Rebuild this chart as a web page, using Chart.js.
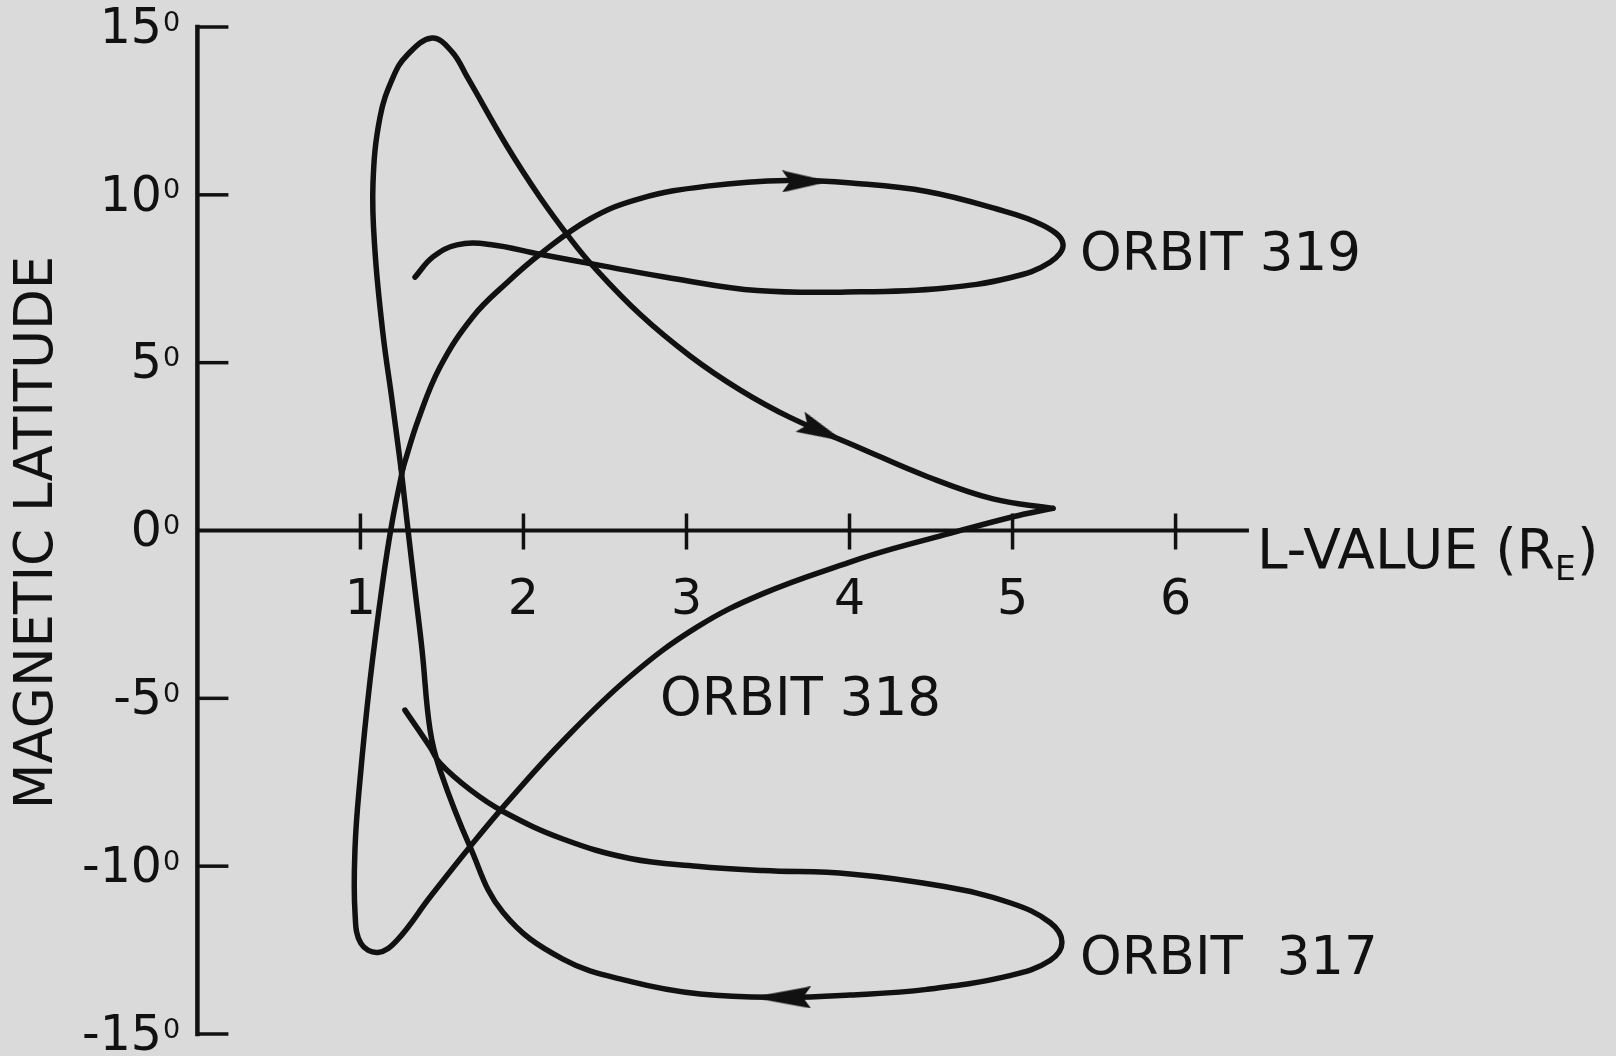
<!DOCTYPE html>
<html>
<head>
<meta charset="utf-8">
<title>Magnetic latitude vs L-value, orbits 317-319</title>
<script src="https://cdn.jsdelivr.net/npm/chart.js@4.4.0/dist/chart.umd.min.js"></script>
<style>
  html, body { margin: 0; padding: 0; background: #dadada; }
  #wrap { position: relative; width: 1616px; height: 1056px; }
</style>
</head>
<body>
<div id="wrap"><canvas id="chart"></canvas></div>
<script>
// axis ticks
const lTicks = [1, 2, 3, 4, 5, 6];
const latTicks = [15, 10, 5, 0, -5, -10, -15];
const lMax = 6.45;

// orbit 317: from the stub at -5 deg, out round the lower loop, back up to the crossing
const orbit317L = [1.273, 1.427, 1.488, 1.672, 1.875, 2.242, 2.654, 3.064, 3.469, 4.003, 4.573, 4.984, 5.230, 5.303, 5.230, 4.984, 4.475, 4.003, 3.580, 3.083, 2.660, 2.242, 1.875, 1.672, 1.488, 1.427, 1.378, 1.335, 1.292, 1.249];
const orbit317Lat = [-5.35, -6.45, -6.93, -7.72, -8.37, -9.19, -9.77, -10.00, -10.13, -10.23, -10.60, -11.09, -11.68, -12.27, -12.81, -13.26, -13.67, -13.84, -13.91, -13.81, -13.44, -12.77, -11.38, -9.42, -7.13, -5.94, -3.56, -1.78, 0.01, 1.85];

// orbit 318: up to the 15 deg peak, out to L=5.25 near the equator, back to the -12.5 deg loop
const orbit318L = [1.249, 1.194, 1.138, 1.089, 1.077, 1.120, 1.200, 1.286, 1.440, 1.562, 1.654, 1.900, 2.101, 2.285, 2.426, 2.715, 3.022, 3.328, 3.635, 4.064, 4.475, 4.880, 5.248, 5.003, 4.598, 4.267, 4.003, 3.469, 3.064, 2.654, 2.242, 1.900, 1.672, 1.427, 1.224, 1.108, 1.003, 0.967, 0.967, 0.997, 1.059, 1.138, 1.194, 1.261];
const orbit318Lat = [1.85, 3.88, 5.87, 8.34, 10.34, 12.31, 13.50, 14.16, 14.67, 14.26, 13.52, 11.44, 9.93, 8.71, 7.88, 6.44, 5.20, 4.19, 3.37, 2.46, 1.61, 0.94, 0.66, 0.41, -0.11, -0.54, -0.94, -1.88, -2.88, -4.35, -6.27, -8.10, -9.42, -10.92, -12.21, -12.57, -12.30, -11.41, -9.45, -7.45, -4.47, -1.49, 0.24, 1.86];

// orbit 319: up round the upper loop and back to the stub at 7.5 deg
const orbit319L = [1.261, 1.354, 1.488, 1.690, 1.900, 2.101, 2.408, 2.715, 3.126, 3.617, 4.064, 4.475, 4.880, 5.187, 5.309, 5.230, 4.984, 4.573, 4.064, 3.433, 2.917, 2.512, 2.101, 1.795, 1.592, 1.445, 1.335];
const orbit319Lat = [1.86, 3.29, 4.87, 6.37, 7.39, 8.23, 9.28, 9.89, 10.26, 10.43, 10.33, 10.10, 9.61, 9.09, 8.55, 7.99, 7.53, 7.22, 7.11, 7.15, 7.51, 7.86, 8.23, 8.52, 8.51, 8.15, 7.55];

// direction arrows (centre of the head, heading in degrees, clockwise from +x)
const arrowL = [3.733, 3.831, 3.580];
const arrowLat = [10.40, 2.95, -13.91];
const arrowHeading = [0, 24, 180];

// orbit labels (left end of baseline)
const orbitNames = ['ORBIT 319', 'ORBIT 318', 'ORBIT  317'];
const orbitNameL = [5.414, 2.838, 5.414];
const orbitNameLat = [7.76, -5.50, -13.21];

const INK = '#111111';
const FONT = '"DejaVu Sans", "Liberation Sans", sans-serif';

const toPoints = (xs, ys) => xs.map((v, i) => ({ x: v, y: ys[i] }));

// arrow head pointing right, drawn once per size
function makeArrowHead(len, wid) {
    const c = document.createElement('canvas');
    c.width = len;
    c.height = wid;
    const g = c.getContext('2d');
    g.fillStyle = INK;
    g.beginPath();
    g.moveTo(len, wid / 2);
    g.lineTo(0, 0);
    g.lineTo(8, wid / 2);
    g.lineTo(0, wid);
    g.closePath();
    g.fill();
    return c;
}
const headShort = makeArrowHead(48, 22);
const headLong = makeArrowHead(60, 22);

const figureAxes = {
    id: 'figureAxes',
    beforeDatasetsDraw(chart) {
        const ctx = chart.ctx;
        const xs = chart.scales.x, ys = chart.scales.y;
        const x0 = xs.getPixelForValue(0);
        const y0 = ys.getPixelForValue(0);
        ctx.save();
        ctx.strokeStyle = INK;

        // vertical axis with inward ticks
        ctx.lineWidth = 4.5;
        ctx.lineCap = 'square';
        ctx.beginPath();
        ctx.moveTo(x0, ys.getPixelForValue(15));
        ctx.lineTo(x0, ys.getPixelForValue(-15));
        ctx.stroke();
        ctx.lineWidth = 3.5;
        ctx.lineCap = 'butt';
        latTicks.forEach(v => {
            if (v === 0) return;
            const py = ys.getPixelForValue(v);
            ctx.beginPath();
            ctx.moveTo(x0, py);
            ctx.lineTo(x0 + 31, py);
            ctx.stroke();
        });

        // horizontal axis along the equator, ticks crossing it
        ctx.lineWidth = 4;
        ctx.beginPath();
        ctx.moveTo(x0, y0);
        ctx.lineTo(xs.getPixelForValue(lMax), y0);
        ctx.stroke();
        ctx.lineWidth = 3.5;
        lTicks.forEach(v => {
            const px = xs.getPixelForValue(v);
            ctx.beginPath();
            ctx.moveTo(px, y0 - 17);
            ctx.lineTo(px, y0 + 19);
            ctx.stroke();
        });
        ctx.restore();
    },
    afterDraw(chart) {
        const ctx = chart.ctx;
        const xs = chart.scales.x, ys = chart.scales.y;
        const y0 = ys.getPixelForValue(0);
        ctx.save();
        ctx.fillStyle = INK;

        // latitude labels with a raised 0 for degrees
        latTicks.forEach(v => {
            const py = ys.getPixelForValue(v);
            ctx.font = '49px ' + FONT;
            ctx.textAlign = 'right';
            ctx.textBaseline = 'middle';
            ctx.fillText(String(v), 162, py + 3);
            ctx.font = '27px ' + FONT;
            ctx.textAlign = 'left';
            ctx.textBaseline = 'top';
            ctx.fillText('0', 163, py - 17);
        });

        // L-value labels
        ctx.font = '49px ' + FONT;
        ctx.textAlign = 'center';
        ctx.textBaseline = 'middle';
        lTicks.forEach(v => {
            ctx.fillText(String(v), xs.getPixelForValue(v), y0 + 71);
        });

        // x axis title: L-VALUE (R with subscript E)
        ctx.textAlign = 'left';
        ctx.textBaseline = 'alphabetic';
        let tx = xs.getPixelForValue(lMax) + 8;
        const base = y0 + 37;
        ctx.font = '55px ' + FONT;
        ctx.fillText('L-VALUE (R', tx, base);
        tx += ctx.measureText('L-VALUE (R').width;
        ctx.font = '33px ' + FONT;
        ctx.fillText('E', tx, base + 12);
        tx += ctx.measureText('E').width + 1;
        ctx.font = '55px ' + FONT;
        ctx.fillText(')', tx, base);

        // y axis title
        ctx.save();
        ctx.translate(38, y0 + 2);
        ctx.rotate(-Math.PI / 2);
        ctx.font = '53px ' + FONT;
        ctx.textAlign = 'center';
        ctx.textBaseline = 'middle';
        ctx.fillText('MAGNETIC LATITUDE', 0, 0);
        ctx.restore();

        // orbit names
        ctx.font = '53px ' + FONT;
        ctx.textAlign = 'left';
        ctx.textBaseline = 'alphabetic';
        orbitNames.forEach((name, i) => {
            ctx.fillText(name, xs.getPixelForValue(orbitNameL[i]), ys.getPixelForValue(orbitNameLat[i]));
        });
        ctx.restore();
    }
};

const orbitLine = (label, xs, ys) => ({
    label: label,
    data: toPoints(xs, ys),
    showLine: true,
    borderColor: INK,
    borderWidth: 5.5,
    borderCapStyle: 'round',
    borderJoinStyle: 'round',
    tension: 0.4,
    pointRadius: 0,
    fill: false
});

// orbit 318 turns sharply at its outermost point, so draw it as two legs
const tip318 = orbit318L.indexOf(Math.max(...orbit318L));

new Chart(document.getElementById('chart'), {
    type: 'scatter',
    data: {
        datasets: [
            orbitLine('Orbit 317', orbit317L, orbit317Lat),
            orbitLine('Orbit 318', orbit318L.slice(0, tip318 + 1), orbit318Lat.slice(0, tip318 + 1)),
            orbitLine('Orbit 318 (return)', orbit318L.slice(tip318), orbit318Lat.slice(tip318)),
            orbitLine('Orbit 319', orbit319L, orbit319Lat),
            {
                label: 'Direction',
                data: toPoints(arrowL, arrowLat),
                showLine: false,
                pointStyle: [headShort, headShort, headLong],
                rotation: arrowHeading,
                pointRadius: 12,
                backgroundColor: INK,
                borderColor: INK
            }
        ]
    },
    options: {
        responsive: true,
        maintainAspectRatio: false,
        animation: false,
        events: [],
        layout: {
            padding: { left: 197.4, right: 1616 - 197.4 - lMax * 163.03, top: 27, bottom: 22 }
        },
        plugins: {
            legend: { display: false },
            tooltip: { enabled: false }
        },
        scales: {
            x: { type: 'linear', min: 0, max: lMax, display: false },
            y: { type: 'linear', min: -15, max: 15, display: false }
        }
    },
    plugins: [figureAxes]
});
</script>
</body>
</html>
